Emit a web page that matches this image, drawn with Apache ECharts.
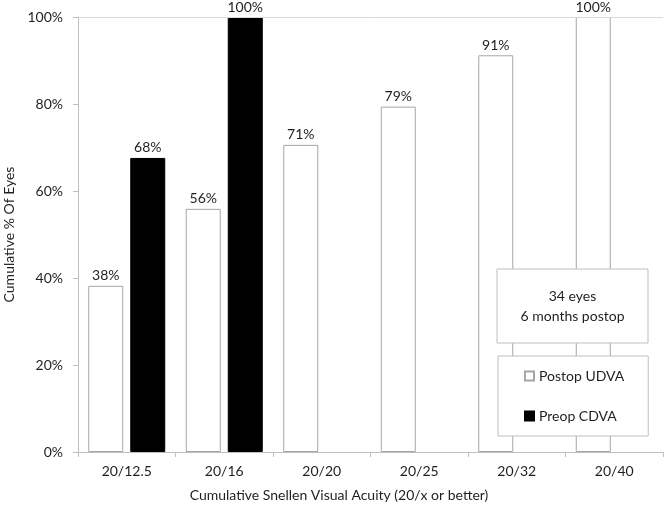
<!DOCTYPE html>
<html><head><meta charset="utf-8">
<script src="https://cdn.jsdelivr.net/npm/echarts@6/dist/echarts.min.js"></script>
<style>html,body{margin:0;padding:0;background:#fff}#c{width:666px;height:507px}</style>
</head><body><div id="c"></div>
<script>
const categories = ['20/12.5','20/16','20/20','20/25','20/32','20/40'];
const postopUDVA = [38.2, 55.9, 70.6, 79.4, 91.2, 100];
const preopCDVA = [67.6, 100, null, null, null, null];
const yTicks = [0, 20, 40, 60, 80, 100];
const noteLines = ['34 eyes', '6 months postop'];

const FONT = 'Lato';
const TXT = '#1f1f1f';
const chart = echarts.init(document.getElementById('c'));
chart.setOption({
  animation: false,
  textStyle: {fontFamily: FONT},
  grid: {left: 78, right: 3, top: 17, bottom: 55, containLabel: false, outerBoundsMode: 'none'},
  xAxis: {
    type: 'category', data: categories,
    axisLine: {lineStyle: {color: '#bfbfbf'}},
    axisTick: {show: true, length: 5, lineStyle: {color: '#bfbfbf'}},
    axisLabel: {color: TXT, fontSize: 14, margin: 12, fontFamily: FONT}
  },
  yAxis: {
    type: 'value', min: yTicks[0], max: yTicks[yTicks.length-1], interval: 20,
    name: 'Cumulative % Of Eyes', nameLocation: 'middle', nameGap: 62,
    nameTextStyle: {color: TXT, fontSize: 14, fontFamily: FONT},
    axisLine: {show: true, lineStyle: {color: '#bfbfbf'}},
    axisTick: {show: true, length: 5, lineStyle: {color: '#bfbfbf'}},
    axisLabel: {color: TXT, fontSize: 14, margin: 15, fontFamily: FONT, formatter: v => v + '%'},
    splitLine: {show: false}
  },
  legend: {
    orient: 'vertical', left: 498, top: 356, icon: 'rect',
    backgroundColor: '#fff', borderColor: '#bfbfbf', borderWidth: 1,
    padding: [13, 24, 13, 26], itemGap: 26, itemWidth: 9, itemHeight: 9,
    textStyle: {color: TXT, fontSize: 14, fontFamily: FONT},
    data: ['Postop UDVA', 'Preop CDVA'], z: 10
  },
  series: [
    {
      name: 'Postop UDVA', type: 'bar', data: postopUDVA, barWidth: 35, barGap: '20%',
      itemStyle: {color: '#fff', borderColor: '#a6a6a6', borderWidth: 1},
      label: {show: true, position: 'top', distance: 3, color: TXT, fontSize: 14, fontFamily: FONT,
        formatter: p => Math.round(p.value) + '%'},
      markLine: {silent: true, symbol: 'none', label: {show: false},
        lineStyle: {color: '#d9d9d9', type: 'solid', width: 1}, data: [{yAxis: 100}]}
    },
    {
      name: 'Preop CDVA', type: 'bar', data: preopCDVA, barWidth: 35, barGap: '20%',
      itemStyle: {color: '#000', borderColor: '#000', borderWidth: 1},
      label: {show: true, position: 'top', distance: 3, color: TXT, fontSize: 14, fontFamily: FONT,
        formatter: p => Math.round(p.value) + '%'}
    }
  ],
  graphic: [
    {type: 'rect', x: 497, y: 269, z: 10, shape: {width: 151, height: 74},
      style: {fill: '#fff', stroke: '#bfbfbf', lineWidth: 1}},
    {type: 'text', z: 11, x: 572.5, y: 306,
      style: {text: noteLines.join('\n'), fill: TXT, font: '14px ' + FONT, align: 'center', verticalAlign: 'middle', lineHeight: 20}},
    {type: 'text', z: 11, x: 339, y: 495,
      style: {text: 'Cumulative Snellen Visual Acuity (20/x or better)', fill: TXT, font: '14px ' + FONT, align: 'center', verticalAlign: 'middle'}}
  ]
});
</script></body></html>
